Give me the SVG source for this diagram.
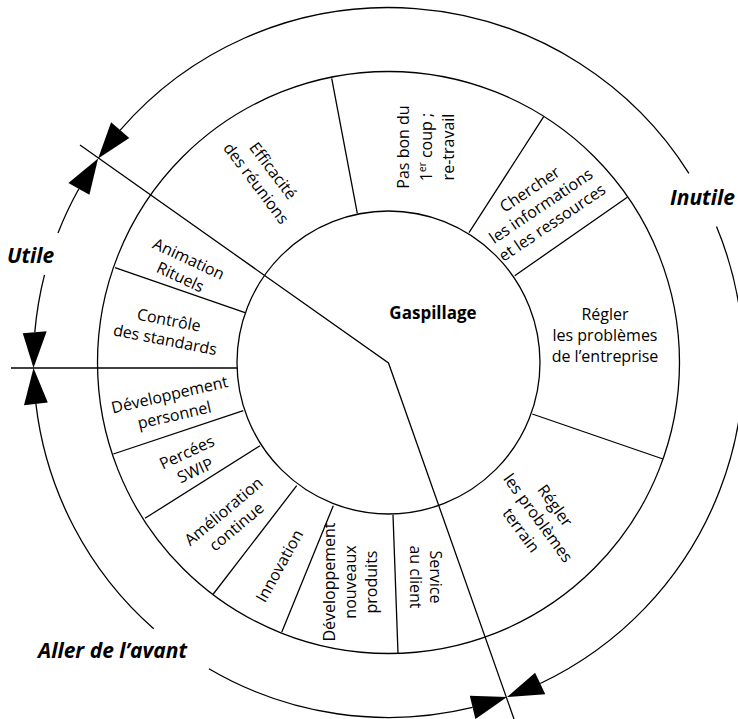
<svg xmlns="http://www.w3.org/2000/svg" width="738" height="719" viewBox="0 0 738 719">
<style>
.ln{fill:none;stroke:#000;stroke-width:1.3}
.ah{fill:#000;stroke:none}
.t{font-family:"Open Sans","Noto Sans",sans-serif;font-size:16px;text-anchor:middle;fill:#000}
.b{font-weight:bold;font-size:17px}
.o{font-family:"Open Sans","Noto Sans",sans-serif;font-size:21px;font-weight:bold;font-style:italic;fill:#000}
</style>
<rect width="738" height="719" fill="#fff"/>
<g id="wheel">
<circle class="ln" cx="388.5" cy="362.5" r="151.5"/>
<circle class="ln" cx="388.5" cy="362.5" r="291"/>
<path class="ln" d="M331.7 78.3L357.3 213.3M543.7 116.7L469 232.7M627.3 197.3L514.7 275.7M532.3 414L663 459M393 514.7L398 653.3M333.3 505.7L281.7 632.3M296.7 485.7L213.3 594M260 445.7L145 518.3M243.3 410.7L113.3 454M115 267.7L245 312.7"/>
</g>
<g id="connectors">
<path class="ln" d="M80 145L388.5 363L514 719"/>
<path class="ln" d="M11 368L237 368"/>
<path class="ln" d="M540.2 683.5A355 355 0 0 0 716.5 226.6M688.9 173.3A355 355 0 0 0 120.2 130.1"/>
<path class="ln" d="M78.9 188.8A355 355 0 0 0 58 233M44.5 274.8A355 355 0 0 0 34.8 332.2"/>
<path class="ln" d="M35.9 403.9A355 355 0 0 0 153.7 628.8M208.9 668.7A355 355 0 0 0 472.6 707.4"/>
<polygon class="ah" points="98.1,158.4 111.1,122.2 129.3,138"/>
<polygon class="ah" points="98.1,158.4 68.4,182.9 89.4,194.7"/>
<polygon class="ah" points="33.5,368.1 22.8,333.2 46.7,331.2"/>
<polygon class="ah" points="33.5,368.1 24,405.3 47.8,402.5"/>
<polygon class="ah" points="507,697.1 545.3,694.3 535.1,672.7"/>
<polygon class="ah" points="507,697.1 475.4,719.1 469.8,695.7"/>
</g>
<g id="gaspillage"><text class="t b" x="433" y="319">Gaspillage</text></g>
<g id="efficacite" transform="translate(264.5,177) rotate(53)"><text class="t" y="-5">Efficacité</text><text class="t" y="16">des réunions</text></g>
<g id="pasbon" transform="translate(426,147) rotate(-90)"><text class="t" y="-17">Pas bon du</text><text class="t" y="5.5">1<tspan font-size="10" dy="-6">er</tspan><tspan dy="6"> coup ;</tspan></text><text class="t" y="28">re-travail</text></g>
<g id="chercher" transform="translate(541,206) rotate(-34)"><text class="t" y="-14.5">Chercher</text><text class="t" y="5.5">les informations</text><text class="t" y="25.5">et les ressources</text></g>
<g id="entreprise"><text class="t" x="605" y="320">Régler</text><text class="t" x="605" y="341">les problèmes</text><text class="t" x="605" y="362">de l’entreprise</text></g>
<g id="terrain" transform="translate(538,518) rotate(54)"><text class="t" y="-15.5">Régler</text><text class="t" y="5.5">les problèmes</text><text class="t" y="26.5">terrain</text></g>
<g id="service" transform="translate(425,577) rotate(90)"><text class="t" y="-4.5">Service</text><text class="t" y="15.5">au client</text></g>
<g id="nouveaux" transform="translate(350,582) rotate(-90)"><text class="t" y="-15.5">Développement</text><text class="t" y="5.5">nouveaux</text><text class="t" y="26.5">produits</text></g>
<g id="innovation" transform="translate(279.5,566) rotate(-61)"><text class="t" y="5.5">Innovation</text></g>
<g id="amelioration" transform="translate(230,519) rotate(-40)"><text class="t" y="-4.5">Amélioration</text><text class="t" y="15.5">continue</text></g>
<g id="percees" transform="translate(191,461.5) rotate(-25)"><text class="t" y="-4.5">Percées</text><text class="t" y="15.5">SWIP</text></g>
<g id="devperso" transform="translate(172,405) rotate(-13)"><text class="t" y="-5">Développement</text><text class="t" y="16">personnel</text></g>
<g id="controle" transform="translate(167,330) rotate(11)"><text class="t" y="-4.5">Contrôle</text><text class="t" y="15.5">des standards</text></g>
<g id="animation" transform="translate(184.5,268) rotate(25)"><text class="t" y="-4.5">Animation</text><text class="t" y="15.5">Rituels</text></g>
<g id="inutile"><text class="o" x="670" y="205">Inutile</text></g>
<g id="utile"><text class="o" x="7" y="263">Utile</text></g>
<g id="aller"><text class="o" x="38" y="658">Aller de l’avant</text></g>
</svg>
